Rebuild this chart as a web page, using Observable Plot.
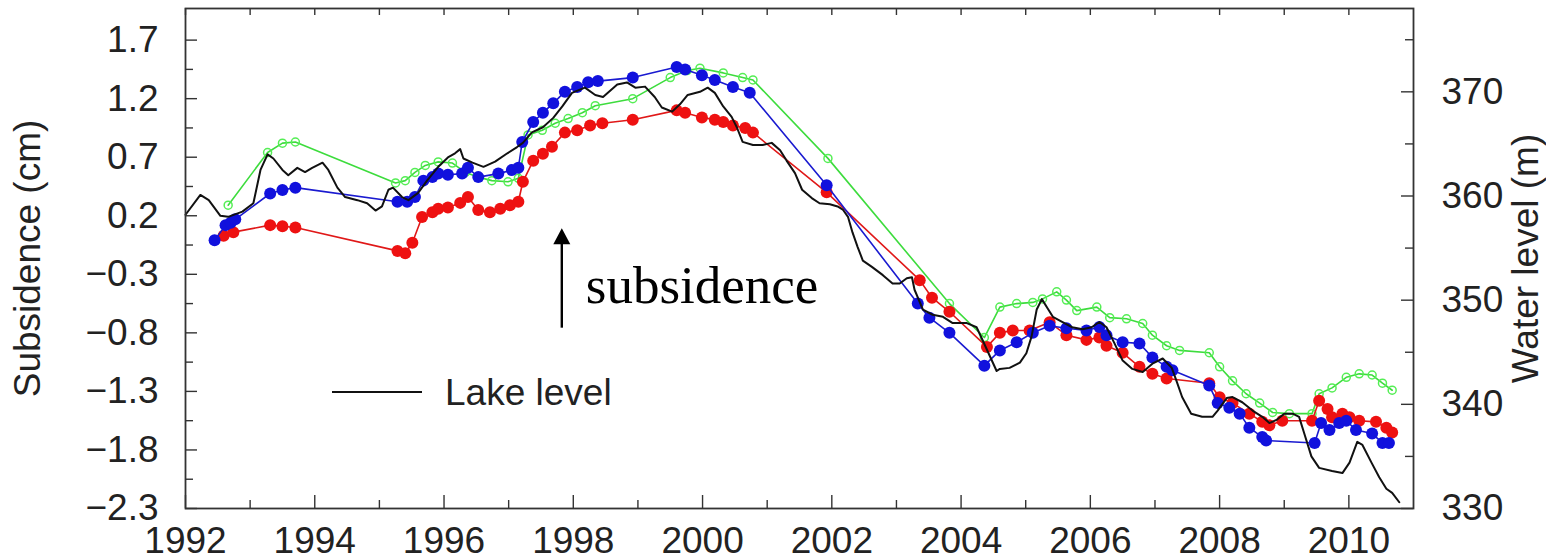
<!DOCTYPE html>
<html>
<head>
<meta charset="utf-8">
<script src="https://cdn.jsdelivr.net/npm/d3@7"></script>
<script src="https://cdn.jsdelivr.net/npm/@observablehq/plot@0.6"></script>
<style>
  html, body { margin: 0; padding: 0; background: #fff; }
  #chart { width: 1546px; height: 560px; overflow: hidden; }
</style>
</head>
<body>
<div id="chart"></div>
<script>
// Axis ticks
const subsTicks = [-2.3, -1.8, -1.3, -0.8, -0.3, 0.2, 0.7, 1.2, 1.7];
const subsMinor = [-2.05, -1.55, -1.05, -0.55, -0.05, 0.45, 0.95, 1.45];
const yearTicks = [1992, 1994, 1996, 1998, 2000, 2002, 2004, 2006, 2008, 2010];
const yearMinor = [1993, 1995, 1997, 1999, 2001, 2003, 2005, 2007, 2009];
const levelTicks = [330, 340, 350, 360, 370];
const levelMinor = [335, 345, 355, 365, 375];

// Lake level (m): [year, water level]
const lakeLevel = [
  [1992.00,358.2],[1992.23,360.1],[1992.36,359.6],[1992.54,358.1],[1992.66,358.0],[1992.88,358.5],
  [1993.05,359.3],[1993.16,362.5],[1993.27,364.0],[1993.36,363.6],[1993.50,362.5],[1993.59,362.0],
  [1993.73,362.7],[1993.85,362.3],[1993.96,362.7],[1994.12,363.2],[1994.21,362.5],[1994.35,360.8],
  [1994.47,359.9],[1994.66,359.6],[1994.81,359.3],[1994.94,358.6],[1995.04,359.0],[1995.14,360.6],
  [1995.21,360.8],[1995.35,359.9],[1995.45,359.6],[1995.60,360.3],[1995.74,361.5],[1995.91,362.8],
  [1996.06,363.7],[1996.17,364.1],[1996.25,364.5],[1996.30,363.6],[1996.44,363.2],[1996.61,362.8],
  [1996.79,363.3],[1996.98,364.1],[1997.13,364.7],[1997.22,365.1],[1997.36,366.1],[1997.53,366.6],
  [1997.69,367.5],[1997.83,368.6],[1997.98,369.9],[1998.18,370.4],[1998.34,369.7],[1998.46,369.5],
  [1998.68,370.7],[1998.83,370.9],[1998.96,370.4],[1999.11,370.5],[1999.26,369.5],[1999.37,368.5],
  [1999.53,368.1],[1999.65,368.8],[1999.77,369.7],[1999.96,370.0],[2000.08,370.4],[2000.19,369.9],
  [2000.32,368.6],[2000.45,367.6],[2000.53,366.6],[2000.62,365.2],[2000.78,364.9],[2000.93,364.9],
  [2001.07,365.1],[2001.20,364.4],[2001.30,363.4],[2001.43,362.2],[2001.54,360.6],[2001.69,359.8],
  [2001.81,359.3],[2001.97,359.2],[2002.09,359.0],[2002.17,358.7],[2002.25,358.0],[2002.32,356.5],
  [2002.40,355.1],[2002.48,353.8],[2002.62,353.2],[2002.79,352.4],[2002.94,351.6],[2003.05,351.6],
  [2003.16,352.1],[2003.24,352.2],[2003.28,351.0],[2003.41,349.1],[2003.56,348.6],[2003.72,348.4],
  [2003.87,347.8],[2004.09,347.8],[2004.24,347.4],[2004.33,346.2],[2004.55,343.2],[2004.60,343.4],
  [2004.75,343.5],[2004.91,344.0],[2005.01,344.9],[2005.09,346.5],[2005.17,349.1],[2005.25,350.1],
  [2005.34,349.2],[2005.42,348.4],[2005.57,347.9],[2005.72,347.4],[2005.88,347.2],[2006.02,347.4],
  [2006.14,347.9],[2006.25,347.4],[2006.37,345.9],[2006.50,344.2],[2006.65,343.4],[2006.81,343.1],
  [2006.96,343.9],[2007.12,344.4],[2007.26,343.5],[2007.33,342.3],[2007.42,340.7],[2007.56,339.1],
  [2007.73,338.8],[2007.89,338.8],[2007.97,339.4],[2008.11,340.6],[2008.20,340.7],[2008.35,340.2],
  [2008.51,339.4],[2008.66,338.8],[2008.77,338.2],[2008.88,338.5],[2009.00,339.1],[2009.13,339.1],
  [2009.23,338.8],[2009.31,337.2],[2009.42,335.0],[2009.54,333.9],[2009.74,333.6],[2009.90,333.4],
  [2010.01,334.4],[2010.13,336.4],[2010.21,336.1],[2010.35,334.4],[2010.47,333.0],[2010.58,331.9],
  [2010.67,331.5],[2010.78,330.6]
];

// Subsidence (cm) series: [year, subsidence]
const redSeries = [
  [1992.59,0.03],[1992.74,0.06],[1993.31,0.12],[1993.50,0.11],[1993.70,0.10],[1995.28,-0.10],
  [1995.40,-0.12],[1995.51,-0.03],[1995.66,0.19],[1995.82,0.23],[1995.91,0.26],[1996.06,0.27],
  [1996.25,0.31],[1996.37,0.36],[1996.53,0.25],[1996.71,0.23],[1996.87,0.26],[1997.02,0.29],
  [1997.15,0.32],[1997.22,0.49],[1997.38,0.67],[1997.53,0.73],[1997.67,0.79],[1997.87,0.91],
  [1998.06,0.93],[1998.26,0.97],[1998.45,0.99],[1998.92,1.02],[1999.60,1.10],[1999.73,1.08],
  [1999.99,1.04],[2000.19,1.02],[2000.32,1.00],[2000.47,0.97],[2000.66,0.95],[2000.78,0.91],
  [2001.92,0.40],[2003.36,-0.35],[2003.55,-0.50],[2003.82,-0.62],[2004.40,-0.92],[2004.60,-0.80],
  [2004.80,-0.78],[2005.06,-0.78],[2005.37,-0.71],[2005.63,-0.82],[2005.94,-0.86],[2006.14,-0.84],
  [2006.25,-0.91],[2006.50,-0.97],[2006.76,-1.09],[2006.96,-1.15],[2007.18,-1.19],[2007.84,-1.23],
  [2008.00,-1.35],[2008.20,-1.40],[2008.46,-1.49],[2008.66,-1.56],[2008.77,-1.59],[2008.97,-1.55],
  [2009.43,-1.55],[2009.54,-1.38],[2009.67,-1.45],[2009.74,-1.52],[2009.90,-1.49],[2010.01,-1.52],
  [2010.16,-1.55],[2010.42,-1.56],[2010.58,-1.61],[2010.67,-1.65]
];
const blueSeries = [
  [1992.45,-0.01],[1992.62,0.12],[1992.70,0.14],[1992.77,0.17],[1993.31,0.39],[1993.50,0.42],
  [1993.70,0.44],[1995.28,0.32],[1995.43,0.32],[1995.55,0.36],[1995.68,0.50],[1995.82,0.53],
  [1995.91,0.56],[1996.06,0.55],[1996.28,0.56],[1996.37,0.61],[1996.53,0.53],[1996.84,0.56],
  [1997.05,0.59],[1997.15,0.61],[1997.21,0.83],[1997.38,1.00],[1997.53,1.08],[1997.69,1.16],
  [1997.87,1.26],[1998.06,1.30],[1998.23,1.34],[1998.38,1.35],[1998.92,1.38],[1999.60,1.47],
  [1999.73,1.45],[1999.99,1.40],[2000.19,1.36],[2000.47,1.30],[2000.73,1.25],[2001.92,0.46],
  [2003.33,-0.55],[2003.51,-0.67],[2003.82,-0.80],[2004.36,-1.08],[2004.60,-0.95],[2004.86,-0.88],
  [2005.11,-0.80],[2005.37,-0.74],[2005.63,-0.76],[2005.94,-0.78],[2006.14,-0.75],[2006.25,-0.82],
  [2006.50,-0.88],[2006.76,-0.89],[2006.96,-1.01],[2007.18,-1.09],[2007.27,-1.12],[2007.84,-1.25],
  [2007.97,-1.40],[2008.15,-1.44],[2008.31,-1.49],[2008.46,-1.61],[2008.66,-1.69],[2008.72,-1.72],
  [2009.47,-1.74],[2009.57,-1.57],[2009.70,-1.63],[2009.85,-1.57],[2009.96,-1.55],[2010.11,-1.63],
  [2010.36,-1.66],[2010.52,-1.74],[2010.62,-1.74]
];
const greenSeries = [
  [1992.66,0.29],[1993.27,0.74],[1993.50,0.82],[1993.70,0.83],[1995.25,0.48],[1995.40,0.50],
  [1995.55,0.57],[1995.71,0.63],[1995.91,0.66],[1996.13,0.65],[1996.33,0.57],[1996.53,0.53],
  [1996.74,0.50],[1996.99,0.49],[1997.15,0.52],[1997.30,0.89],[1997.52,0.93],[1997.72,0.99],
  [1997.92,1.03],[1998.14,1.08],[1998.34,1.14],[1998.92,1.20],[1999.50,1.38],[1999.76,1.44],
  [1999.96,1.46],[2000.32,1.42],[2000.62,1.38],[2000.78,1.36],[2001.94,0.69],[2003.82,-0.55],
  [2004.36,-0.84],[2004.60,-0.58],[2004.86,-0.55],[2005.11,-0.54],[2005.26,-0.51],[2005.48,-0.45],
  [2005.63,-0.52],[2005.79,-0.61],[2006.10,-0.58],[2006.30,-0.67],[2006.56,-0.68],[2006.81,-0.72],
  [2006.96,-0.82],[2007.18,-0.91],[2007.38,-0.95],[2007.84,-0.97],[2008.00,-1.09],[2008.20,-1.21],
  [2008.41,-1.32],[2008.62,-1.40],[2008.82,-1.48],[2009.08,-1.49],[2009.43,-1.49],[2009.54,-1.32],
  [2009.74,-1.27],[2009.96,-1.18],[2010.16,-1.15],[2010.36,-1.16],[2010.52,-1.23],[2010.67,-1.29]
];

// Annotation: upward arrow meaning subsidence
const note = {year: 1997.83, base: -0.76, tip: 0.09, text: "subsidence"};
const legendLabel = "Lake level";

const W = 1546, H = 560;
const M = {top: 8, right: 133, bottom: 52, left: 185};
const innerW = W - M.left - M.right;   // 1228
const innerH = H - M.top - M.bottom;   // 500

// Water level shares the vertical axis with subsidence through a linear map
const levelToSubs = d3.scaleLinear().domain([330, 378]).range([-2.3, 1.97]);

const font = "'Liberation Sans', Arial, Helvetica, sans-serif";
const fs = 37;
const frameColor = "#333";
const minus = s => s.replace("-", "\u2212");

const chart = Plot.plot({
  width: W, height: H,
  marginTop: M.top, marginRight: M.right, marginBottom: M.bottom, marginLeft: M.left,
  x: {domain: [1992, 2011]},
  y: {domain: [-2.3, 1.97]},
  style: {fontFamily: font, fontSize: fs + "px", color: "#222", background: "#fff", overflow: "visible"},
  marks: [
    // inward tick marks on all four sides
    Plot.ruleY(subsTicks, {y: d => d, stroke: frameColor, strokeWidth: 1.4, insetRight: innerW - 12}),
    Plot.ruleY(subsMinor, {y: d => d, stroke: frameColor, strokeWidth: 1.4, insetRight: innerW - 8}),
    Plot.ruleY(levelTicks, {y: d => levelToSubs(d), stroke: frameColor, strokeWidth: 1.4, insetLeft: innerW - 12}),
    Plot.ruleY(levelMinor, {y: d => levelToSubs(d), stroke: frameColor, strokeWidth: 1.4, insetLeft: innerW - 8}),
    Plot.ruleX(yearTicks, {x: d => d, stroke: frameColor, strokeWidth: 1.4, insetTop: innerH - 13}),
    Plot.ruleX(yearMinor, {x: d => d, stroke: frameColor, strokeWidth: 1.4, insetTop: innerH - 8}),
    Plot.ruleX(yearTicks.concat(yearMinor), {x: d => d, stroke: frameColor, strokeWidth: 1.4, insetBottom: innerH - 7}),

    // tick labels
    Plot.axisY(subsTicks, {anchor: "left", tickSize: 0, tickPadding: 27, fontSize: fs, fontFamily: font,
      tickFormat: d => minus(d.toFixed(1)), label: null}),
    Plot.axisY(levelTicks.map(d => levelToSubs(d)), {anchor: "right", tickSize: 0, tickPadding: 28, fontSize: fs, fontFamily: font,
      tickFormat: d => String(Math.round(levelToSubs.invert(d))), label: null}),
    Plot.axisX(yearTicks, {anchor: "bottom", tickSize: 0, tickPadding: 18, fontSize: fs, fontFamily: font,
      tickFormat: d => String(d), label: null}),

    // axis titles
    Plot.text(["Subsidence (cm)"], {frameAnchor: "left", dx: -157, rotate: -90, textAnchor: "middle",
      lineAnchor: "middle", fontSize: fs, fontFamily: font, fill: "#222"}),
    Plot.text(["Water level (m)"], {frameAnchor: "right", dx: 113, rotate: -90, textAnchor: "middle",
      lineAnchor: "middle", fontSize: fs, fontFamily: font, fill: "#222"}),

    // InSAR subsidence series
    Plot.line(greenSeries, {x: d => d[0], y: d => d[1], stroke: "#3ddc3d", strokeWidth: 1.6}),
    Plot.dot(greenSeries, {x: d => d[0], y: d => d[1], r: 4, stroke: "#55ee55", strokeWidth: 1.5, fill: "none"}),
    Plot.line(redSeries, {x: d => d[0], y: d => d[1], stroke: "#e01818", strokeWidth: 1.6}),
    Plot.dot(redSeries, {x: d => d[0], y: d => d[1], r: 6, fill: "#ee1111", stroke: "none"}),
    Plot.line(blueSeries, {x: d => d[0], y: d => d[1], stroke: "#1a1ad0", strokeWidth: 1.6}),
    Plot.dot(blueSeries, {x: d => d[0], y: d => d[1], r: 6, fill: "#1111dd", stroke: "none"}),

    // lake level on the right-hand scale
    Plot.line(lakeLevel, {x: d => d[0], y: d => levelToSubs(d[1]), stroke: "#111", strokeWidth: 2}),

    Plot.frame({stroke: frameColor, strokeWidth: 1.8})
  ]
});

document.getElementById("chart").appendChild(chart);

// Legend and annotation, positioned with the chart's own scales
const sx = chart.scale("x"), sy = chart.scale("y");
const svg = d3.select(chart);
const g = svg.append("g").attr("text-anchor", "start");

// legend entry for the lake level line
g.append("line")
  .attr("x1", M.left + 147).attr("x2", M.left + 237)
  .attr("y1", 392).attr("y2", 392)
  .attr("stroke", "#111").attr("stroke-width", 2);
g.append("text")
  .attr("x", M.left + 260).attr("y", 392)
  .attr("dy", "0.35em")
  .attr("text-anchor", "start")
  .attr("font-family", font).attr("font-size", fs)
  .attr("fill", "#222")
  .text(legendLabel);

// subsidence arrow
const ax = sx.apply(note.year), ay0 = sy.apply(note.base), ay1 = sy.apply(note.tip);
g.append("line")
  .attr("x1", ax).attr("x2", ax)
  .attr("y1", ay0).attr("y2", ay1 + 12)
  .attr("stroke", "#000").attr("stroke-width", 2.4);
g.append("path")
  .attr("d", `M${ax},${ay1} L${ax - 8.5},${ay1 + 16} L${ax + 8.5},${ay1 + 16} Z`)
  .attr("fill", "#000");
g.append("text")
  .attr("x", ax + 24).attr("y", ay0 - 25)
  .attr("text-anchor", "start")
  .attr("font-family", "'Liberation Serif', 'Times New Roman', serif")
  .attr("font-size", 53)
  .attr("fill", "#000")
  .text(note.text);
</script>
</body>
</html>
